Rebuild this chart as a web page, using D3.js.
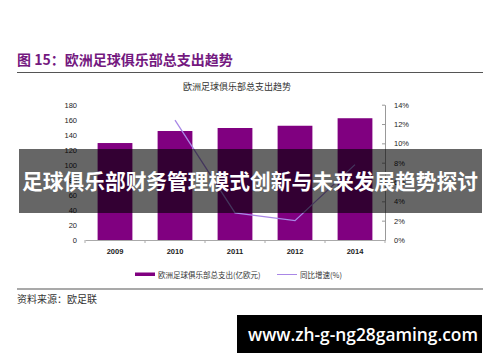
<!DOCTYPE html>
<html>
<head>
<meta charset="utf-8">
<script src="https://cdn.jsdelivr.net/npm/d3@7"></script>
<style>
  body { margin: 0; background: #fff; }
  svg { display: block; }
</style>
</head>
<body>
<div id="chart"></div>
<script>
// data
var years = ["2009", "2010", "2011", "2012", "2014"];
var spend = [129, 145, 149, 152, 162];          // 亿欧元
var growth = [null, 12.4, 2.8, 2.0, 7.8];        // %
var leftTicks = [0, 20, 40, 60, 80, 100, 120, 140, 160, 180];
var rightTicks = [0, 2, 4, 6, 8, 10, 12, 14];

var width = 500, height = 362;
var cjk = "'Noto Sans CJK SC', sans-serif";

var svg = d3.select("#chart").append("svg")
    .attr("width", width)
    .attr("height", height);

// header
svg.append("text")
    .attr("x", 17).attr("y", 65)
    .attr("fill", "#74197f")
    .style("font-family", cjk).style("font-size", "14px").style("font-weight", "bold")
    .text("图 15：欧洲足球俱乐部总支出趋势");
svg.append("line")
    .attr("x1", 17).attr("x2", 483).attr("y1", 72.5).attr("y2", 72.5)
    .attr("stroke", "#555").attr("stroke-width", 1.2);

svg.append("text")
    .attr("x", 237).attr("y", 90)
    .attr("text-anchor", "middle").attr("fill", "#333")
    .style("font-family", cjk).style("font-size", "9px")
    .text("欧洲足球俱乐部总支出趋势");

// scales
var x = d3.scaleBand().domain(years).range([85, 385]).paddingInner(0.42).paddingOuter(0.21);
var y = d3.scaleLinear().domain([0, 180]).range([240, 104.7]);
var y2 = d3.scaleLinear().domain([0, 14]).range([240, 104.7]);

// left axis (labels only)
var yAxis = svg.append("g")
    .attr("transform", "translate(79,0)")
    .call(d3.axisLeft(y).tickValues(leftTicks).tickSize(0).tickPadding(2));
yAxis.select(".domain").remove();
yAxis.selectAll("text").style("font-family", "Arial, 'Liberation Sans', sans-serif")
    .style("font-size", "7.5px").attr("fill", "#222");

// right axis
var y2Axis = svg.append("g")
    .attr("transform", "translate(385,0)")
    .call(d3.axisRight(y2).tickValues(rightTicks).tickSize(0).tickPadding(9)
        .tickFormat(function (d) { return d + "%"; }));
y2Axis.select(".domain").attr("stroke", "#999");
y2Axis.selectAll(".tick").append("line")
    .attr("x1", -3).attr("x2", 0).attr("stroke", "#999");
y2Axis.selectAll("text").style("font-family", "Arial, 'Liberation Sans', sans-serif")
    .style("font-size", "7.5px").attr("fill", "#222");

// bars
svg.selectAll("rect.bar")
    .data(spend)
    .enter()
    .append("rect")
    .attr("class", "bar")
    .attr("x", function (d, i) { return x(years[i]); })
    .attr("y", function (d) { return y(d); })
    .attr("width", x.bandwidth())
    .attr("height", function (d) { return y(0) - y(d); })
    .attr("fill", "#800080");

// x axis
var xAxis = svg.append("g")
    .attr("transform", "translate(0,240)")
    .call(d3.axisBottom(x).tickSize(0).tickPadding(9));
xAxis.select(".domain").attr("stroke", "#aaa");
xAxis.selectAll("text").style("font-family", "Arial, 'Liberation Sans', sans-serif")
    .style("font-size", "7.5px").style("font-weight", "bold").attr("fill", "#222");
var step = x.step();
svg.append("g").selectAll("line")
    .data(d3.range(years.length + 1))
    .enter()
    .append("line")
    .attr("x1", function (i) { return 85 + i * step; })
    .attr("x2", function (i) { return 85 + i * step; })
    .attr("y1", 240).attr("y2", 243)
    .attr("stroke", "#aaa");

// growth line
var line = d3.line()
    .defined(function (d) { return d != null; })
    .x(function (d, i) { return x(years[i]) + x.bandwidth() / 2; })
    .y(function (d) { return y2(d); });
svg.append("path")
    .datum(growth)
    .attr("d", line)
    .attr("fill", "none")
    .attr("stroke", "#a987e6")
    .attr("stroke-width", 1.3);

// legend
svg.append("rect").attr("x", 135).attr("y", 272.5).attr("width", 20).attr("height", 3.5).attr("fill", "#800080");
svg.append("text").attr("x", 158).attr("y", 277.5)
    .style("font-family", cjk).style("font-size", "7.5px").attr("fill", "#333")
    .text("欧洲足球俱乐部总支出(亿欧元)");
svg.append("line").attr("x1", 277).attr("x2", 297).attr("y1", 274.5).attr("y2", 274.5)
    .attr("stroke", "#a987e6").attr("stroke-width", 1);
svg.append("text").attr("x", 300).attr("y", 277.5)
    .style("font-family", cjk).style("font-size", "7.5px").attr("fill", "#333")
    .text("同比增速(%)");

// footer
svg.append("line")
    .attr("x1", 17).attr("x2", 483).attr("y1", 289).attr("y2", 289)
    .attr("stroke", "#555").attr("stroke-width", 1.2);
svg.append("text")
    .attr("x", 17).attr("y", 303)
    .style("font-family", cjk).style("font-size", "10px").attr("fill", "#333")
    .text("资料来源：欧足联");

// overlay banner
svg.append("rect")
    .attr("x", 19).attr("y", 149).attr("width", 463).attr("height", 64)
    .attr("fill", "rgba(0,0,0,0.6)");
svg.append("text")
    .attr("x", 250).attr("y", 189)
    .attr("text-anchor", "middle").attr("fill", "#fff")
    .attr("textLength", 456).attr("lengthAdjust", "spacingAndGlyphs")
    .style("font-family", cjk).style("font-size", "21px").style("font-weight", "bold")
    .text("足球俱乐部财务管理模式创新与未来发展趋势探讨");

// watermark box
svg.append("rect")
    .attr("x", 237).attr("y", 315).attr("width", 245).attr("height", 38)
    .attr("fill", "#000");
svg.append("text")
    .attr("x", 363).attr("y", 341)
    .attr("text-anchor", "middle").attr("fill", "#fff")
    .attr("textLength", 230).attr("lengthAdjust", "spacingAndGlyphs")
    .style("font-family", "'Open Sans', sans-serif").style("font-size", "18px").style("font-weight", "600")
    .text("www.zh-g-ng28gaming.com");
</script>
</body>
</html>
